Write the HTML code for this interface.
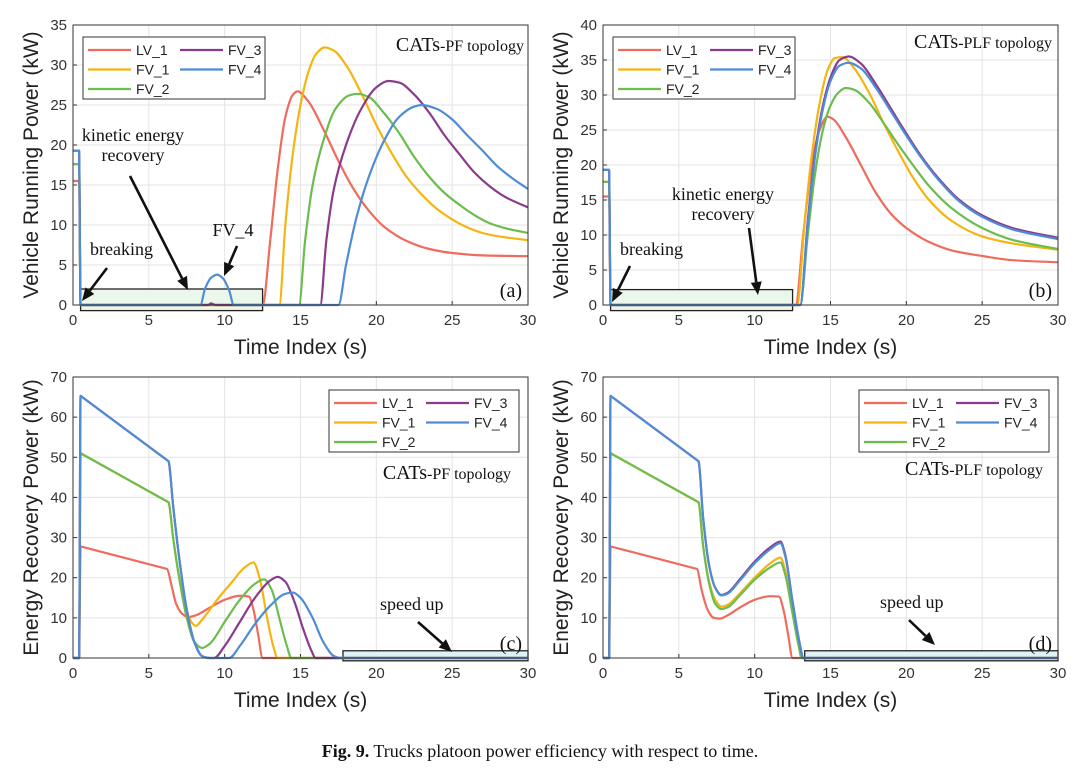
<!DOCTYPE html>
<html><head><meta charset="utf-8">
<style>
html,body{margin:0;padding:0;background:#fff;}
svg{display:block;}
text{font-family:"Liberation Sans",sans-serif;}
.serif{font-family:"Liberation Serif",serif;}
</style></head>
<body>
<svg id="fig" width="1080" height="781" viewBox="0 0 1080 781"></svg>
<script>
// ---- data: [time, kW] ----
const xTicks = [0,5,10,15,20,25,30];
const yTicksA = [0,5,10,15,20,25,30,35];
const yTicksB = [0,5,10,15,20,25,30,35,40];
const yTicksC = [0,10,20,30,40,50,60,70];
const seriesNames = ["LV_1","FV_1","FV_2","FV_3","FV_4"];
const seriesColors = ["#ef6b5d","#f4b512","#6cbd4e","#8a3c8c","#4f8cd6"];

const aLV1 = [[0,15.5],[0.4,15.5],[0.5,0],[12.5,0],[13,8],[13.5,17],[14,23.5],[14.5,26.3],[14.8,26.7],[15.5,25.5],[16.5,22],[17.5,18],[18.5,14.5],[19.5,11.8],[20.5,9.8],[22,8],[23.5,7],[25,6.5],[27,6.2],[30,6.1]];
const aFV1 = [[0,17.6],[0.4,17.6],[0.5,0],[13.6,0],[14,10],[14.5,19],[15,25],[15.5,29],[16,31.3],[16.6,32.2],[17.2,31.8],[18,30],[19,26.5],[20,22.5],[21,19],[22,16],[23,13.8],[24,12],[25,10.7],[26,9.7],[27,9],[28,8.6],[30,8.1]];
const aFV2 = [[0,17.6],[0.4,17.6],[0.5,0],[14.9,0],[15.3,8],[15.8,15],[16.5,20.5],[17.3,24.5],[18.2,26.2],[18.8,26.4],[19.5,26],[20.5,24],[21.5,21.5],[22.5,18.5],[23.5,16],[24.5,14],[25.5,12.5],[26.5,11.2],[27.5,10.2],[28.5,9.6],[30,9]];
const aFV3 = [[0,19.3],[0.4,19.3],[0.5,0],[8.9,0],[9.1,0.2],[9.4,0],[16.3,0],[16.7,8],[17.2,14.5],[18,20],[19,24.5],[20,27.2],[20.8,28],[21.5,27.8],[22.5,26.3],[23.5,24],[24.5,21.2],[25.5,18.8],[26.5,16.5],[27.5,14.8],[28.5,13.5],[30,12.2]];
const aFV4 = [[0,19.3],[0.4,19.3],[0.5,0],[8.4,0],[8.7,2],[9.1,3.4],[9.5,3.8],[9.9,3.3],[10.3,1.8],[10.6,0],[17.5,0],[18,5],[18.7,11],[19.5,16],[20.5,20.5],[21.5,23.5],[22.5,24.8],[23,25],[24,24.5],[25,23.2],[26,21.2],[27,19.3],[28,17.3],[29,15.8],[30,14.5]];

const bLV1 = [[0,15.5],[0.4,15.5],[0.5,0],[12.7,0],[13.2,10],[13.7,19],[14.2,24.5],[14.8,26.9],[15.2,26.5],[16,24],[17,20],[18,16],[19,13],[20,11],[21.5,9],[23,7.8],[25,7],[27,6.4],[30,6.1]];
const bFV1 = [[0,17.6],[0.4,17.6],[0.5,0],[12.8,0],[13.3,12],[13.8,22],[14.3,29],[14.8,33.5],[15.3,35.3],[15.8,35.4],[16.5,34],[17.5,30.5],[18.5,26],[19.5,21.8],[20.5,18],[21.5,15],[23,12],[25,9.8],[27,8.8],[30,7.9]];
const bFV2 = [[0,17.6],[0.4,17.6],[0.5,0],[13,0],[13.5,10],[14,19],[14.5,25],[15,28.5],[15.5,30.3],[16,31],[16.5,30.8],[17.5,29],[18.5,26],[19.5,22.8],[20.5,19.8],[21.5,17],[23,13.8],[25,11],[27,9.3],[30,8]];
const bFV3 = [[0,19.3],[0.4,19.3],[0.5,0],[13,0],[13.5,12],[14,22],[14.5,28.5],[15,32.5],[15.6,35],[16.2,35.5],[17,34.5],[18,31.5],[19,28],[20,24.5],[21,21.2],[22,18.4],[23.5,15],[25,12.8],[27,11],[30,9.6]];
const bFV4 = [[0,19.3],[0.4,19.3],[0.5,0],[13,0],[13.5,11.5],[14,21.5],[14.5,28],[15,32],[15.6,34.2],[16.2,34.6],[17,33.8],[18,31],[19,27.6],[20,24.2],[21,21],[22,18.2],[23.5,14.8],[25,12.6],[27,10.8],[30,9.4]];

const cLV1 = [[0,0],[0.4,0],[0.5,27.8],[6.2,22.2],[6.5,18],[6.8,13.5],[7.2,11],[7.6,10.2],[8,10.5],[9,12.5],[10,14.5],[11,15.5],[11.6,15.3],[11.9,12],[12.2,6],[12.5,0],[30,0]];
const cFV1 = [[0,0],[0.4,0],[0.5,51],[6.3,38.8],[6.6,30],[7,20],[7.4,13],[7.8,9],[8.1,8],[8.5,9.5],[9.5,14.5],[10.5,19],[11.3,22.5],[11.9,23.8],[12.3,20],[12.8,10],[13.2,3],[13.5,0],[30,0]];
const cFV2 = [[0,0],[0.4,0],[0.5,51],[6.3,38.8],[6.6,30],[7,20],[7.5,10],[8,4],[8.5,2.5],[9,3.5],[10,9],[11,14.5],[12,18.5],[12.6,19.6],[13.1,17],[13.6,10],[14.1,3],[14.4,0],[30,0]];
const cFV3 = [[0,0],[0.4,0],[0.5,65.3],[6.3,49],[6.6,38],[7,25],[7.5,12],[8,4],[8.5,0.5],[9,0],[9.3,0],[10,3],[11,9],[12,15],[13,19.3],[13.5,20.2],[14,19],[14.6,14],[15.2,7],[15.7,2],[16,0],[30,0]];
const cFV4 = [[0,0],[0.4,0],[0.5,65.3],[6.3,49],[6.6,38],[7,25],[7.5,12],[8,4],[8.5,0.5],[9,0],[10.3,0],[11,3],[12,8.5],[13,13],[14,16],[14.5,16.3],[15,15],[15.8,10],[16.5,4],[17.2,0.5],[17.6,0],[30,0]];

const dLV1 = [[0,0],[0.4,0],[0.5,27.8],[6.2,22.2],[6.5,17],[6.9,12],[7.3,10],[7.7,9.8],[8.2,10.6],[9,12.5],[10,14.5],[11,15.4],[11.6,15.3],[11.9,12],[12.2,6],[12.5,0],[30,0]];
const dFV1 = [[0,0],[0.4,0],[0.5,51],[6.3,38.8],[6.6,28],[7,19],[7.4,14.5],[7.8,12.8],[8.2,13.2],[9,16],[10,20],[11,23.5],[11.7,25],[12,22],[12.5,12],[12.9,4],[13.1,0],[30,0]];
const dFV2 = [[0,0],[0.4,0],[0.5,51],[6.3,38.8],[6.6,28],[7,18.5],[7.4,13.5],[7.8,12.2],[8.2,12.6],[9,15.5],[10,19.5],[11,22.5],[11.7,23.8],[12,21],[12.5,11],[12.9,3],[13.1,0],[30,0]];
const dFV3 = [[0,0],[0.4,0],[0.5,65.3],[6.3,49],[6.6,35],[7,23],[7.4,17.5],[7.8,15.7],[8.2,16.2],[9,19.5],[10,24],[11,27.5],[11.7,29],[12,26],[12.5,14],[13,3],[13.2,0],[30,0]];
const dFV4 = [[0,0],[0.4,0],[0.5,65.3],[6.3,49],[6.6,35],[7,23],[7.4,17.5],[7.8,15.6],[8.2,16],[9,19.2],[10,23.6],[11,27],[11.7,28.6],[12,25.6],[12.5,14],[13,3],[13.2,0],[30,0]];

const NS = "http://www.w3.org/2000/svg";
const root = document.getElementById("fig");
function mk(tag, attrs, parent, txt){
  const e = document.createElementNS(NS, tag);
  for (const k in attrs) e.setAttribute(k, attrs[k]);
  if (txt !== undefined) e.textContent = txt;
  (parent||root).appendChild(e);
  return e;
}

// monotone cubic path; long segments (>60px) drawn straight
function monoPath(P){
  const n = P.length;
  if (n < 2) return "";
  const dx = [], m = [], t = [];
  for (let i=0;i<n-1;i++){ dx[i]=P[i+1][0]-P[i][0]; m[i]= dx[i] ? (P[i+1][1]-P[i][1])/dx[i] : 0; }
  t[0]=m[0]; t[n-1]=m[n-2];
  for (let i=1;i<n-1;i++){
    if (m[i-1]*m[i] <= 0) t[i]=0;
    else { const w1=2*dx[i]+dx[i-1], w2=dx[i]+2*dx[i-1]; t[i]=(w1+w2)/(w1/m[i-1]+w2/m[i]); }
  }
  let d = "M"+P[0][0].toFixed(2)+" "+P[0][1].toFixed(2);
  for (let i=0;i<n-1;i++){
    if (dx[i] > 60) { d += " L"+P[i+1][0].toFixed(2)+" "+P[i+1][1].toFixed(2); continue; }
    const h = dx[i]/3;
    d += " C"+(P[i][0]+h).toFixed(2)+" "+(P[i][1]+t[i]*h).toFixed(2)+" "+(P[i+1][0]-h).toFixed(2)+" "+(P[i+1][1]-t[i+1]*h).toFixed(2)+" "+P[i+1][0].toFixed(2)+" "+P[i+1][1].toFixed(2);
  }
  return d;
}

function panel(p){
  const g = mk("g", {});
  
  
  const X = t => p.x0 + (t - 0) / 30 * (p.x1 - p.x0);
  const Y = v => p.y1 - v / p.ymax * (p.y1 - p.y0);
  xTicks.forEach(t => {
    const l = mk("line", {x1:X(t), x2:X(t), y1:p.y0, y2:p.y1, stroke:"#e3e3e3", "stroke-width":1}, g);
    
    
    const tx = mk("text", {x:X(t), y:p.y1+20, "text-anchor":"middle", "font-size":15, fill:"#333"}, g, t);
    
    
    mk("line", {x1:X(t), x2:X(t), y1:p.y1, y2:p.y1-4, stroke:"#333"}, g);
  });
  p.yt.forEach(v => {
    const l = mk("line", {x1:p.x0, x2:p.x1, y1:Y(v), y2:Y(v), stroke:"#e3e3e3", "stroke-width":1}, g);
    
    
    const tx = mk("text", {x:p.x0-6, y:Y(v)+5, "text-anchor":"end", "font-size":15, fill:"#333"}, g, v);
    
    
    mk("line", {x1:p.x0, x2:p.x0+4, y1:Y(v), y2:Y(v), stroke:"#333"}, g);
  });
  const hb = mk("rect", {x:X(p.box[0]), y:Y(p.box[2]), width:X(p.box[1])-X(p.box[0]), height:Y(p.box[3])-Y(p.box[2]), fill:p.boxFill, stroke:"#222", "stroke-width":1.3}, g);
  
  
  p.series.forEach((s, i) => {
    const pts = s.map(pt => [X(pt[0]), Y(pt[1])]);
    const path = mk("path", {d:monoPath(pts), fill:"none", stroke:seriesColors[i], "stroke-width":2.2, "stroke-linejoin":"round"}, g);
    
    
  });
  const fr = mk("rect", {x:p.x0, y:p.y0, width:p.x1-p.x0, height:p.y1-p.y0, fill:"none", stroke:"#333", "stroke-width":1}, g);
  
  
  const xt = mk("text", {x:(p.x0+p.x1)/2, y:p.y1+49, "text-anchor":"middle", "font-size":21, fill:"#222"}, g, "Time Index (s)");
  
  
  const cy = (p.y0+p.y1)/2;
  const yt = mk("text", {x:p.x0-42, y:cy+7, transform:"rotate(-90 "+(p.x0-42)+" "+cy+")", "text-anchor":"middle", "font-size":21, fill:"#222"}, g, p.ytitle);
  
  
  const lg = mk("g", {}, g);
  
  
  mk("rect", {x:p.lg[0], y:p.lg[1], width:p.lgw||182, height:62, fill:"#fff", stroke:"#333", "stroke-width":1}, lg);
  const pos = [[0,0],[0,1],[0,2],[1,0],[1,1]];
  seriesNames.forEach((n, i) => {
    const lx = p.lg[0] + 5 + pos[i][0]*92, ly = p.lg[1] + 13 + pos[i][1]*19.5;
    const e = mk("g", {}, lg);
    
    
    mk("line", {x1:lx, x2:lx+43, y1:ly, y2:ly, stroke:seriesColors[i], "stroke-width":2.2}, e);
    mk("text", {x:lx+48, y:ly+5, "font-size":14, fill:"#222"}, e, n);
  });
  const tl = mk("text", {x:p.topo[0], y:p.topo[1], "text-anchor":"end", class:"serif", "font-size":20, fill:"#111"}, g);
  
  
  const t1 = document.createElementNS(NS, "tspan"); t1.textContent = "CATs"; tl.appendChild(t1);
  const t2 = document.createElementNS(NS, "tspan"); t2.setAttribute("font-size", "16"); t2.textContent = "-" + p.topoTxt + " topology"; tl.appendChild(t2);
  const pl = mk("text", {x:p.x1-6, y:p.y1-8, "text-anchor":"end", class:"serif", "font-size":20, fill:"#111"}, g, p.letter);
  
  
}

function arrow(x1,y1,x2,y2,name){
  const a = Math.atan2(y2-y1, x2-x1), L = 13, W = 5.5;
  const bx = x2 - L*Math.cos(a), by = y2 - L*Math.sin(a);
  const g = mk("g", {});
  
  
  mk("line", {x1:x1, y1:y1, x2:bx, y2:by, stroke:"#111", "stroke-width":2.6}, g);
  mk("polygon", {points:[x2,y2, bx - W*Math.sin(a), by + W*Math.cos(a), bx + W*Math.sin(a), by - W*Math.cos(a)].join(","), fill:"#111"}, g);
}
function note(x,y,txt,name,anchor){
  const t = mk("text", {x:x, y:y, class:"serif", "font-size":18, fill:"#111", "text-anchor":anchor||"start"}, root, txt);
  
  
}

panel({name:"panel-a", x0:73, x1:528, y0:25, y1:305, ymax:35, yt:yTicksA, ytitle:"Vehicle Running Power (kW)", series:[aLV1,aFV1,aFV2,aFV3,aFV4], box:[0.5,12.5,2,-0.7], boxFill:"#eaf7ea", lg:[83,37], topo:[524,51], topoTxt:"PF", letter:"(a)"});
panel({name:"panel-b", x0:603, x1:1058, y0:25, y1:305, ymax:40, yt:yTicksB, ytitle:"Vehicle Running Power (kW)", series:[bLV1,bFV1,bFV2,bFV3,bFV4], box:[0.5,12.5,2.2,-0.8], boxFill:"#eaf7ea", lg:[613,37], topo:[1052,48], topoTxt:"PLF", letter:"(b)"});
panel({name:"panel-c", x0:73, x1:528, y0:377, y1:658, ymax:70, yt:yTicksC, ytitle:"Energy Recovery Power (kW)", series:[cLV1,cFV1,cFV2,cFV3,cFV4], box:[17.8,30,1.8,-0.7], boxFill:"#dff3f7", lg:[329,390], lgw:190, topo:[511,479], topoTxt:"PF", letter:"(c)"});
panel({name:"panel-d", x0:603, x1:1058, y0:377, y1:658, ymax:70, yt:yTicksC, ytitle:"Energy Recovery Power (kW)", series:[dLV1,dFV1,dFV2,dFV3,dFV4], box:[13.3,30,1.8,-0.7], boxFill:"#dff3f7", lg:[859,390], lgw:190, topo:[1043,475], topoTxt:"PLF", letter:"(d)"});

note(133,141,"kinetic energy","annotation-kinetic-a","middle");
note(133,161,"recovery","annotation-recovery-a","middle");
arrow(130,176,188,290,"arrow-kinetic-a");
note(90,255,"breaking","annotation-breaking-a");
arrow(107,268,82,301,"arrow-breaking-a");
note(233,236,"FV_4","annotation-fv4-a","middle");
arrow(237,246,224,276,"arrow-fv4-a");

note(723,200,"kinetic energy","annotation-kinetic-b","middle");
note(723,220,"recovery","annotation-recovery-b","middle");
arrow(749,228,758,295,"arrow-kinetic-b");
note(620,255,"breaking","annotation-breaking-b");
arrow(630,266,612,302,"arrow-breaking-b");

note(380,610,"speed up","annotation-speedup-c");
arrow(418,622,452,652,"arrow-speedup-c");
note(880,608,"speed up","annotation-speedup-d");
arrow(909,620,935,645,"arrow-speedup-d");

const cap = mk("text", {x:540, y:757, "text-anchor":"middle", class:"serif", "font-size":18, fill:"#111"});


const c1 = document.createElementNS(NS, "tspan"); c1.setAttribute("font-weight","bold"); c1.textContent = "Fig. 9."; cap.appendChild(c1);
const c2 = document.createElementNS(NS, "tspan"); c2.textContent = "  Trucks platoon power efficiency with respect to time."; cap.appendChild(c2);
</script>
</body></html>
